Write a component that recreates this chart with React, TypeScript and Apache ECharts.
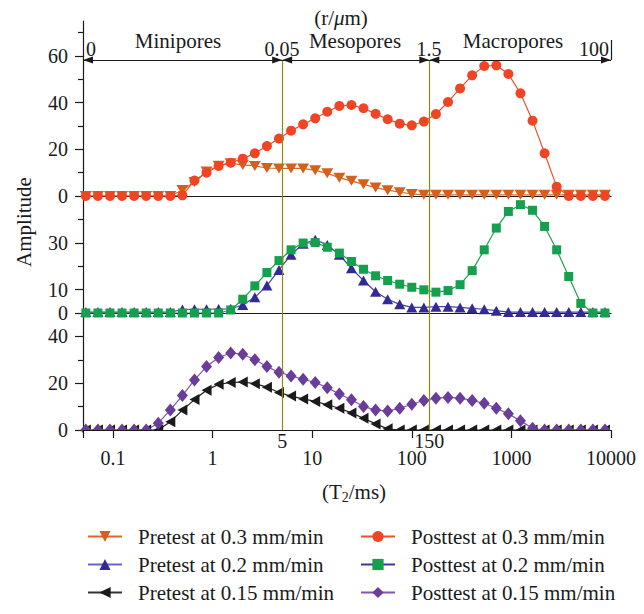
import React, { useEffect, useRef } from 'react';
import * as echarts from 'echarts';

// T2 relaxation times (ms) of the plotted points
const T2 = [
  0.0534, 0.0706, 0.0933, 0.1233, 0.163, 0.2154, 0.2848, 0.3765, 0.4977, 0.6579,
  0.8697, 1.1498, 1.5199, 2.0092, 2.6561, 3.5112, 4.6416, 6.1359, 8.1113, 10.723,
  14.175, 18.738, 24.771, 32.745, 43.288, 57.224, 75.646, 100, 132.19, 174.75,
  231.01, 305.39, 403.7, 533.67, 705.48, 932.6, 1232.8, 1629.8, 2154.4, 2848.0,
  3764.9, 4977.0, 6579.3, 8697.5,
];

const pretest03 = [
  0, 0, 0, 0, 0, 0, 0, 0,
  2.6, 6, 10.5, 13, 14,
  13.3, 12.9, 12, 11.8, 11.8, 11.8, 11, 9.7, 7.8, 6.5, 5, 3.6, 2.5, 1.6, 0.9,
  0.5, 0.5, 0.5, 0.5, 0.5, 0.5, 0.5, 0.5, 0.5, 0.5, 0.5, 0.5, 0.5, 0.5, 0.5, 0.5,
];
const posttest03 = [
  0, 0, 0, 0, 0, 0, 0, 0, 0.3,
  6.6, 10, 12.9, 14.3, 16, 18.3, 21.4, 24.6, 28, 30.7, 33.3, 36.1, 38.6, 39, 37.6,
  35.2, 32.9, 31, 30.3, 31.9, 35.1, 40.3, 46.1, 51.7, 55.7, 56, 52.3, 44, 32.3, 18.3, 4,
  0, 0, 0, 0,
];
const pretest02 = [
  0.4, 0.4, 0.4, 0.4, 0.4, 0.4, 0.4, 0.4,
  1.5, 1.6, 1.6, 1.7, 1.8,
  3.4, 6.7, 11.7, 18.4, 24.9, 29.6, 31.3, 29.1, 24.9, 19.1, 13.9, 9.1, 5.9, 3.7, 2.4,
  2.4, 2.7, 2.7, 2.4, 2, 1.6, 1,
  0.4, 0.4, 0.4, 0.4, 0.4, 0.4, 0.4, 0.4, 0.4,
];
const posttest02 = [
  0, 0, 0, 0, 0, 0, 0, 0, 0, 0, 0, 0,
  1.3, 5.9, 11.6, 17.3, 22.4, 27, 29.9, 30.1, 28.1, 25.6, 22, 18.7, 15.9, 13.9, 12.3,
  11, 9.9, 8.9, 9.6, 12.1, 18.1, 27, 36.3, 43.4, 46.3, 43.9, 37, 27, 15.6, 4.1,
  0, 0,
];
const pretest015 = [
  0, 0, 0, 0, 0, 0, 0,
  3.5, 8.5, 13, 17, 19.5, 20.3, 20.5, 19.8, 18.3, 16, 14.5, 13.3, 12.2, 10.8, 9.3,
  7.3, 5, 2.6, 0.5,
  0, 0, 0, 0, 0, 0, 0, 0, 0, 0, 0, 0, 0, 0, 0, 0, 0, 0,
];
const posttest015 = [
  0, 0, 0, 0, 0, 0,
  2.9, 8.6, 14.7, 21.4, 27.1, 31, 32.9, 32.4, 30, 27.1, 24.7, 23.1, 21.7, 20.3, 18.1,
  15.4, 12.9, 10, 8.6, 8.1, 9.3, 11, 12.6, 13.6, 13.9, 13.6, 12.6, 11.4, 9.3, 6.9,
  3.9, 0.7,
  0, 0, 0, 0, 0, 0,
];

// pore-class boundaries on the T2 axis and their radius labels
const boundaryT2 = [5, 150];
const boundaryT2Labels = ['5', '150'];
const rangeT2 = [0.05, 5, 150, 10000];
const radiusLabels = ['0', '0.05', '1.5', '100'];
const poreNames = ['Minipores', 'Mesopores', 'Macropores'];

const topMajor = [0, 20, 40, 60];
const topMinor = [10, 30, 50, 70];
const midMajor = [0, 10, 30];
const midMinor = [20, 40];
const botMajor = [0, 20, 40];
const botMinor = [10, 30];

const FONT = 'Liberation Serif';
const INK = '#1a1a1a';

const pts = (ys: number[]) => T2.map((t, i) => [t, ys[i]]);

export default function App() {
  const ref = useRef<HTMLDivElement>(null);

  useEffect(() => {
    const chart = echarts.init(ref.current!, null, { renderer: 'svg' });
    const axisLineStyle = { color: INK, width: 1.2 };

    const xBase = { type: 'log', logBase: 10, min: 0.05, max: 10000 };
    const hiddenX = (g: number) => ({
      ...xBase,
      gridIndex: g,
      axisLine: { show: true, lineStyle: axisLineStyle },
      axisTick: { show: false },
      axisLabel: { show: false },
      splitLine: { show: false },
    });

    const yMajor = (g: number, max: number, vals: number[]) => ({
      type: 'value',
      gridIndex: g,
      min: 0,
      max,
      position: 'left',
      axisLine: { show: true, lineStyle: axisLineStyle },
      axisTick: { show: true, length: 8, customValues: vals, lineStyle: axisLineStyle },
      axisLabel: {
        show: true,
        customValues: vals,
        fontSize: 20,
        fontFamily: FONT,
        color: INK,
        margin: 15,
      },
      splitLine: { show: false },
    });
    const yMinor = (g: number, max: number, vals: number[]) => ({
      type: 'value',
      gridIndex: g,
      min: 0,
      max,
      position: 'left',
      axisLine: { show: false },
      axisTick: { show: true, length: 5, customValues: vals, lineStyle: axisLineStyle },
      axisLabel: { show: false },
      splitLine: { show: false },
    });

    const lineSeries = (
      name: string,
      ys: number[],
      axis: number,
      yAxis: number,
      symbol: string,
      size: number | number[],
      rotate: number,
      lineColor: string,
      markColor: string
    ) => ({
      type: 'line',
      name,
      xAxisIndex: axis,
      yAxisIndex: yAxis,
      data: pts(ys),
      symbol,
      symbolSize: size,
      symbolRotate: rotate,
      showAllSymbol: true,
      lineStyle: { color: lineColor, width: 1.2 },
      itemStyle: { color: markColor },
      z: 2,
    });

    const legendText = {
      fontSize: 21,
      fontFamily: FONT,
      color: INK,
      lineHeight: 21,
      padding: [0, 0, 0, 11],
    };

    const option: any = {
      animation: false,
      backgroundColor: '#ffffff',
      textStyle: { fontFamily: FONT },
      grid: [
        { left: 83, width: 528, top: 21, height: 175 },
        { left: 83, width: 528, top: 196, height: 117 },
        { left: 83, width: 528, top: 313, height: 117 },
        { left: 83, width: 528, top: 60, height: 370 },
      ],
      xAxis: [
        hiddenX(0),
        hiddenX(1),
        {
          ...xBase,
          gridIndex: 2,
          z: 6,
          axisLine: { show: true, lineStyle: axisLineStyle },
          axisTick: { show: true, length: 8, lineStyle: axisLineStyle },
          axisLabel: {
            show: true,
            fontSize: 20,
            fontFamily: FONT,
            color: INK,
            margin: 18,
            formatter: (v: number) => {
              const l = Math.log10(v);
              if (Math.abs(l - Math.round(l)) > 1e-6) return '';
              return String(+v.toPrecision(6));
            },
          },
          splitLine: { show: false },
        },
        { ...xBase, gridIndex: 3, show: false },
      ],
      yAxis: [
        yMajor(0, 75, topMajor),
        yMinor(0, 75, topMinor),
        yMajor(1, 50, midMajor),
        yMinor(1, 50, midMinor),
        yMajor(2, 50, botMajor),
        yMinor(2, 50, botMinor),
        { type: 'value', gridIndex: 3, min: 0, max: 1, show: false },
      ],
      legend: [
        {
          orient: 'vertical',
          left: 87,
          top: 526,
          padding: 0,
          itemWidth: 34,
          itemHeight: 14,
          itemGap: 7,
          selectedMode: false,
          textStyle: legendText,
          data: [
            { name: 'Pretest at 0.3 mm/min', lineStyle: { color: '#d9692a', width: 2 } },
            { name: 'Pretest at 0.2 mm/min', lineStyle: { color: '#6c64c4', width: 2 } },
            { name: 'Pretest at 0.15 mm/min', lineStyle: { color: '#333333', width: 2 } },
          ],
        },
        {
          orient: 'vertical',
          left: 360,
          top: 526,
          padding: 0,
          itemWidth: 34,
          itemHeight: 14,
          itemGap: 7,
          selectedMode: false,
          textStyle: legendText,
          data: [
            { name: 'Posttest at 0.3 mm/min', lineStyle: { color: '#ef4f2b', width: 2 } },
            { name: 'Posttest at 0.2 mm/min', lineStyle: { color: '#3c3a98', width: 2 } },
            { name: 'Posttest at 0.15 mm/min', lineStyle: { color: '#8255b5', width: 2 } },
          ],
        },
      ],
      series: [
        lineSeries('Pretest at 0.3 mm/min', pretest03, 0, 0, 'triangle', [12, 10], 180, '#d9692a', '#d55f1d'),
        lineSeries('Posttest at 0.3 mm/min', posttest03, 0, 0, 'circle', 10, 0, '#ef4f2b', '#ef4524'),
        lineSeries('Pretest at 0.2 mm/min', pretest02, 1, 2, 'triangle', [11, 10], 0, '#4a40a8', '#332a93'),
        lineSeries('Posttest at 0.2 mm/min', posttest02, 1, 2, 'rect', 9, 0, '#22a050', '#14a04c'),
        lineSeries('Pretest at 0.15 mm/min', pretest015, 2, 4, 'triangle', [11, 10], 90, '#222222', '#1a1a1a'),
        lineSeries('Posttest at 0.15 mm/min', posttest015, 2, 4, 'diamond', [11, 13], 0, '#8255b5', '#6a3d9a'),
        {
          type: 'line',
          name: 'boundaries',
          xAxisIndex: 3,
          yAxisIndex: 6,
          data: [],
          silent: true,
          markLine: {
            silent: true,
            symbol: 'none',
            lineStyle: { color: '#8c8c14', width: 1.2, type: 'solid' },
            label: {
              show: true,
              position: 'start',
              distance: 1,
              fontSize: 20,
              fontFamily: FONT,
              color: INK,
            },
            data: boundaryT2.map((v, i) => ({
              xAxis: v,
              label: { formatter: boundaryT2Labels[i] },
            })),
          },
        },
        {
          type: 'line',
          name: 'ranges',
          xAxisIndex: 3,
          yAxisIndex: 6,
          data: [],
          silent: true,
          markLine: {
            silent: true,
            symbol: ['triangle', 'triangle'],
            symbolSize: [7, 10],
            symbolOffset: [[0, 5], [0, 5]],
            lineStyle: { color: INK, width: 1.2, type: 'solid' },
            label: { show: false },
            data: [0, 1, 2].map((i) => [
              { coord: [rangeT2[i], 1] },
              { coord: [rangeT2[i + 1], 1] },
            ]),
          },
        },
      ],
      graphic: [
        {
          type: 'text',
          x: 341,
          y: 18,
          style: {
            text: '(r/{i|μ}m)',
            fontSize: 21,
            fontFamily: FONT,
            fill: INK,
            align: 'center',
            verticalAlign: 'middle',
            textAlign: 'center',
            textVerticalAlign: 'middle',
            rich: { i: { fontStyle: 'italic', fontSize: 21, fontFamily: FONT, fill: INK } },
          },
        },
        ...poreNames.map((n, i) => ({
          type: 'text',
          x: [178, 355, 513][i],
          y: 41,
          style: {
            text: n,
            fontSize: 21,
            fontFamily: FONT,
            fill: INK,
            align: 'center',
            verticalAlign: 'middle',
            textAlign: 'center',
            textVerticalAlign: 'middle',
          },
        })),
        ...radiusLabels.map((t, i) => ({
          type: 'text',
          x: [86, 282, 429, 594][i],
          y: 49,
          style: {
            text: t,
            fontSize: 20,
            fontFamily: FONT,
            fill: INK,
            align: i === 0 ? 'left' : 'center',
            textAlign: i === 0 ? 'left' : 'center',
            verticalAlign: 'middle',
            textVerticalAlign: 'middle',
          },
        })),
        {
          type: 'line',
          shape: { x1: 611.5, y1: 40, x2: 611.5, y2: 60 },
          style: { stroke: INK, lineWidth: 1.2 },
        },
        {
          type: 'text',
          x: 24,
          y: 222,
          rotation: Math.PI / 2,
          style: {
            text: 'Amplitude',
            fontSize: 21,
            fontFamily: FONT,
            fill: INK,
            align: 'center',
            verticalAlign: 'middle',
            textAlign: 'center',
            textVerticalAlign: 'middle',
          },
        },
        {
          type: 'text',
          x: 354,
          y: 492,
          style: {
            text: '(T{s|2}/ms)',
            fontSize: 21,
            fontFamily: FONT,
            fill: INK,
            lineHeight: 24,
            align: 'center',
            verticalAlign: 'middle',
            textAlign: 'center',
            textVerticalAlign: 'middle',
            rich: {
              s: { fontSize: 14, fontFamily: FONT, fill: INK, lineHeight: 24, verticalAlign: 'bottom' },
            },
          },
        },
        {
          type: 'rect',
          z: 3,
          silent: true,
          shape: { x: 84, y: 430.7, width: 532, height: 6 },
          style: { fill: '#ffffff' },
        },
      ],
    };

    chart.setOption(option);
    return () => chart.dispose();
  }, []);

  return (
    <>
      <style>{`.chart-root svg text { font-family: "Liberation Serif", serif !important; }`}</style>
      <div
        ref={ref}
        className="chart-root"
        style={{ position: 'fixed', left: 0, top: 0, width: 644, height: 614, background: '#fff' }}
      />
    </>
  );
}
